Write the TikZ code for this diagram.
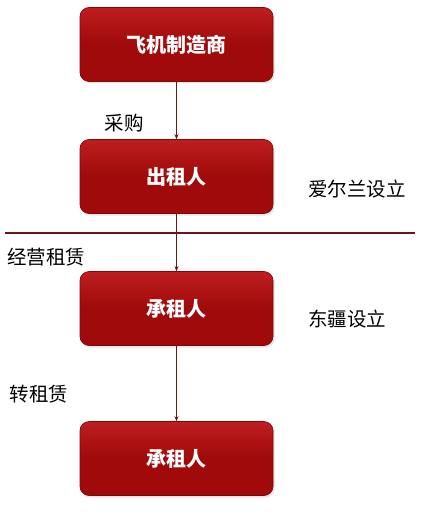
\documentclass[tikz,border=0pt]{standalone}
\usepackage{fontspec}
\setmainfont{Noto Sans CJK SC}
\usetikzlibrary{arrows.meta,shadows}

\definecolor{boxred}{RGB}{160,10,10}
\definecolor{boxtop}{RGB}{190,30,32}
\definecolor{boxedge}{RGB}{130,8,8}
\definecolor{linered}{RGB}{110,20,20}

\begin{document}
\begin{tikzpicture}[x=1pt,y=-1pt,
  party/.style={rounded corners=9pt,draw=boxedge,line width=0.6pt,
    top color=boxtop,bottom color=boxred,middle color=boxred,
    minimum width=193pt,minimum height=74pt,text=white,
    font=\bfseries\fontsize{20}{22}\selectfont,
    drop shadow={shadow xshift=1.5pt,shadow yshift=-2pt,opacity=0.2}},
  flow/.style={draw=linered,line width=0.8pt,-{Stealth[length=5pt,width=4pt]}},
  note/.style={font=\fontsize{19.5}{22}\selectfont}]
  \useasboundingbox (0,0) rectangle (422,529);

  \node[party] (maker) at (176.5,44.5) {飞机制造商};
  \node[party] (lessor) at (176.5,176.5) {出租人};
  \node[party] (lessee) at (176.5,308.5) {承租人};
  \node[party] (sublessee) at (176.5,458.5) {承租人};

  \draw[flow] (maker) -- (lessor);
  \draw[flow] (lessor) -- (lessee);
  \draw[flow] (lessee) -- (sublessee);

  \coordinate (sepL) at (5,233);
  \coordinate (sepR) at (415,233);
  \draw[draw=linered,line width=2pt] (sepL) -- (sepR);

  \node[note] (buy) at (124,123) {采购};
  \node[note] (ireland) at (357,189) {爱尔兰设立};
  \node[note] (oplease) at (46,257) {经营租赁};
  \node[note] (dongjiang) at (347,319) {东疆设立};
  \node[note] (sublease) at (39,394) {转租赁};
\end{tikzpicture}
\end{document}
